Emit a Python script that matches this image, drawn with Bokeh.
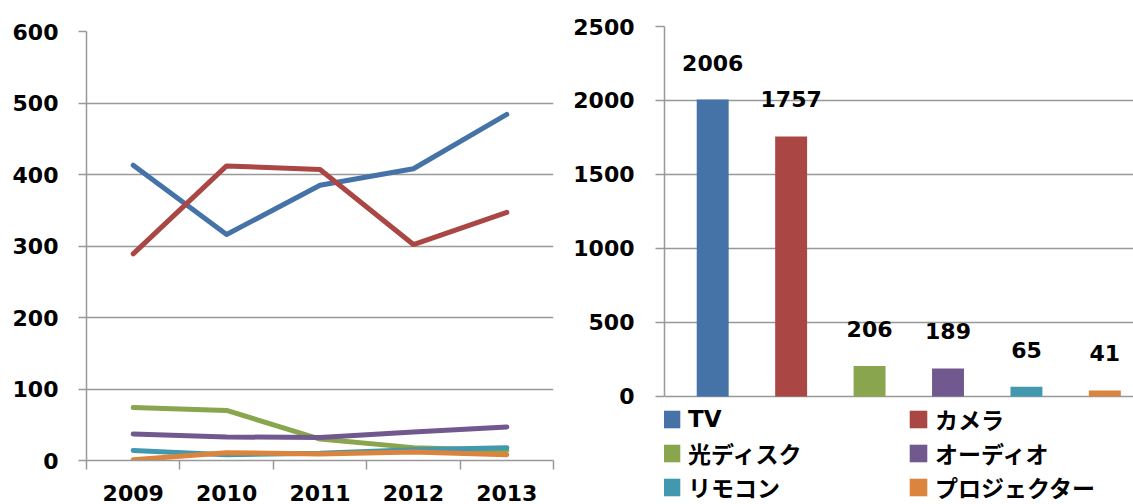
from bokeh.plotting import figure
from bokeh.models import ColumnDataSource, Range1d, FixedTicker, Legend, LegendItem
from bokeh.layouts import row
from bokeh.embed import file_html
from bokeh.resources import INLINE
from bokeh.core.properties import value

# ---- data ----
years = ["2009", "2010", "2011", "2012", "2013"]
tv = [413, 316, 385, 408, 484]
camera = [289, 412, 407, 302, 347]
disc = [74, 70, 30, 18, 14]
audio = [37, 33, 32, 40, 47]
remote = [14, 8, 10, 15, 18]
projector = [1, 11, 9, 12, 8]

categories = ["TV", "カメラ", "光ディスク", "オーディオ", "リモコン", "プロジェクター"]
totals = [2006, 1757, 206, 189, 65, 41]
colors = ["#4572A7", "#AA4643", "#89A54E", "#71588F", "#4198AF", "#DB843D"]

left_ticks = [0, 100, 200, 300, 400, 500, 600]
right_ticks = [0, 500, 1000, 1500, 2000, 2500]

FONT = "'DejaVu Sans', 'Noto Sans CJK JP'"
GRID = "#999999"
FS = "22px"


def style_axis(ax):
    ax.axis_line_color = GRID
    ax.axis_line_width = 1.5
    ax.major_tick_line_color = GRID
    ax.major_tick_line_width = 1.5
    ax.minor_tick_line_color = GRID
    ax.minor_tick_line_width = 1.5
    ax.major_label_text_font = FONT
    ax.major_label_text_font_style = "bold"
    ax.major_label_text_font_size = FS
    ax.major_label_text_color = "#000000"


# ---- left: line chart ----
xs = [i + 0.5 for i in range(len(years))]
p1 = figure(width=570, height=504, x_range=Range1d(0, len(years)), y_range=Range1d(0, 600),
            output_backend="svg", toolbar_location=None,
            min_border_left=86, min_border_right=17, min_border_top=31, min_border_bottom=44)
p1.frame_align = False
p1.outline_line_color = None

line_src = ColumnDataSource(dict(x=xs, tv=tv, camera=camera, disc=disc, audio=audio,
                                 remote=remote, projector=projector))
for col, c in zip(["tv", "camera", "disc", "audio", "remote", "projector"], colors):
    p1.line("x", col, source=line_src, line_color=c, line_width=5,
            line_cap="round", line_join="round")

xa = p1.xaxis[0]
style_axis(xa)
xa.ticker = FixedTicker(ticks=xs, minor_ticks=list(range(len(years) + 1)))
xa.major_label_overrides = {x: y for x, y in zip(xs, years)}
xa.major_tick_out = 0
xa.major_tick_in = 0
xa.minor_tick_out = 9
xa.minor_tick_in = 0
xa.major_label_standoff = 15

ya = p1.yaxis[0]
style_axis(ya)
ya.ticker = FixedTicker(ticks=left_ticks, minor_ticks=[])
ya.major_tick_out = 8
ya.major_tick_in = 0
ya.major_label_standoff = 20

p1.xgrid.visible = False
p1.ygrid.ticker = FixedTicker(ticks=left_ticks)
p1.ygrid.grid_line_color = GRID
p1.ygrid.grid_line_width = 1.5

# ---- right: bar chart ----
bx = [i + 0.5 for i in range(len(categories))]
p2 = figure(width=563, height=504, x_range=Range1d(-0.1145, 5.865), y_range=Range1d(-730, 2500),
            x_axis_location=None, output_backend="svg", toolbar_location=None,
            min_border_left=93, min_border_right=0, min_border_top=26, min_border_bottom=0)
p2.frame_align = False
p2.outline_line_color = None

bar_src = ColumnDataSource(dict(x=bx, top=totals, color=colors, cat=categories,
                                label=[str(t) for t in totals]))
bars = p2.vbar(x="x", top="top", width=0.407, fill_color="color", line_color=None, source=bar_src)
p2.text(x="x", y="top", text="label", source=bar_src, text_align="center", text_baseline="middle",
        y_offset=-37, text_font=value("DejaVu Sans"), text_font_style="bold",
        text_font_size=FS, text_color="#000000")

ya2 = p2.yaxis[0]
style_axis(ya2)
ya2.ticker = FixedTicker(ticks=right_ticks, minor_ticks=[])
ya2.bounds = (0, 2500)
ya2.major_tick_out = 9
ya2.major_tick_in = 0
ya2.major_label_standoff = 21

p2.xgrid.visible = False
p2.ygrid.ticker = FixedTicker(ticks=right_ticks)
p2.ygrid.grid_line_color = GRID
p2.ygrid.grid_line_width = 1.5

legend = Legend(items=[LegendItem(label=c, renderers=[bars], index=i) for i, c in enumerate(categories)],
                ncols=2, orientation="horizontal", location=(-4, 0),
                glyph_width=22, glyph_height=22, label_standoff=6, label_width=219,
                label_height=24, spacing=0, padding=0, margin=0,
                border_line_color=None, background_fill_alpha=0,
                label_text_font=FONT, label_text_font_style="bold",
                label_text_font_size="23px", label_text_color="#000000")
p2.add_layout(legend)

layout = row(p1, p2)
open("out.html", "w").write(file_html(layout, INLINE))
